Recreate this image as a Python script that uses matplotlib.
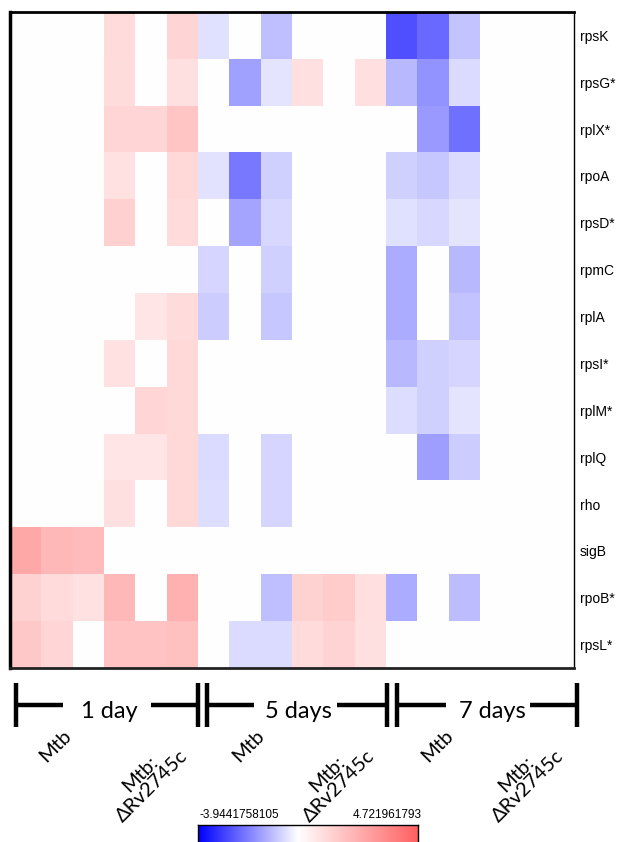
import matplotlib
matplotlib.use("Agg")
import matplotlib.pyplot as plt
from matplotlib.colors import LinearSegmentedColormap, Normalize
from matplotlib.lines import Line2D
import numpy as np

W, H = 617, 842

genes = ["rpsK", "rpsG*", "rplX*", "rpoA", "rpsD*", "rpmC", "rplA",
         "rpsI*", "rplM*", "rplQ", "rho", "sigB", "rpoB*", "rpsL*"]

# columns: 1 day Mtb x3, 1 day mutant x3, 5 days Mtb x3, 5 days mutant x3, 7 days Mtb x3, 7 days mutant x3
rpsK = [0, 0, 0, 1.04, 0, 1.25, -0.48, 0, -0.97, 0, 0, 0, -2.7, -2.3, -0.91, 0, 0, 0]
rpsG = [0, 0, 0, 1.0, 0, 0.9, 0, -1.47, -0.42, 0.92, 0, 0.95, -1.1, -1.65, -0.54, 0, 0, 0]
rplX = [0, 0, 0, 1.22, 1.22, 1.72, 0, 0, 0, 0, 0, 0, 0, -1.56, -2.2, 0, 0, 0]
rpoA = [0, 0, 0, 0.87, 0, 1.16, -0.45, -2.06, -0.7, 0, 0, 0, -0.71, -0.84, -0.55, 0, 0, 0]
rpsD = [0, 0, 0, 1.4, 0, 1.04, 0, -1.4, -0.6, 0, 0, 0, -0.48, -0.62, -0.42, 0, 0, 0]
rpmC = [0, 0, 0, 0, 0, 0, -0.66, 0, -0.71, 0, 0, 0, -1.28, 0, -1.07, 0, 0, 0]
rplA = [0, 0, 0, 0, 0.74, 1.04, -0.79, 0, -0.84, 0, 0, 0, -1.28, 0, -0.91, 0, 0, 0]
rpsI = [0, 0, 0, 0.87, 0, 1.16, 0, 0, 0, 0, 0, 0, -1.07, -0.7, -0.64, 0, 0, 0]
rplM = [0, 0, 0, 0, 1.22, 1.16, 0, 0, 0, 0, 0, 0, -0.51, -0.71, -0.42, 0, 0, 0]
rplQ = [0, 0, 0, 0.74, 0.74, 1.16, -0.54, 0, -0.66, 0, 0, 0, 0, -1.5, -0.79, 0, 0, 0]
rho = [0, 0, 0, 0.92, 0, 1.16, -0.51, 0, -0.66, 0, 0, 0, 0, 0, 0, 0, 0, 0]
sigB = [2.58, 2.11, 1.99, 0, 0, 0, 0, 0, 0, 0, 0, 0, 0, 0, 0, 0, 0, 0]
rpoB = [1.31, 1.04, 0.87, 2.11, 0, 2.35, 0, 0, -0.97, 1.31, 1.51, 0.95, -1.28, 0, -1.03, 0, 0, 0]
rpsL = [1.63, 1.22, 0, 1.75, 1.75, 1.87, 0, -0.54, -0.54, 1.04, 1.27, 0.92, 0, 0, 0, 0, 0, 0]

vmin, vmax = -3.9441758105, 4.721961793
days = ["1 day", "5 days", "7 days"]
strains = ["Mtb", "Mtb:\nΔRv2745c"]

data = np.array([rpsK, rpsG, rplX, rpoA, rpsD, rpmC, rplA, rpsI,
                 rplM, rplQ, rho, sigB, rpoB, rpsL])

mid = -vmin / (vmax - vmin)
cmap = LinearSegmentedColormap.from_list(
    "bwr_hm", [(0, "#0000ff"), (mid, "#ffffff"), (1, "#ff6060")])
norm = Normalize(vmin=vmin, vmax=vmax)

fig = plt.figure(figsize=(W / 100, H / 100), dpi=100)


def fx(x):
    return x / W


def fy(y):
    return 1 - y / H


ax = fig.add_axes([fx(10), fy(668), fx(574) - fx(10), fy(12) - fy(668)])
ax.imshow(data, cmap=cmap, norm=norm, aspect="auto", interpolation="nearest")
ax.set_xticks([])
ax.set_yticks(range(len(genes)))
ax.set_yticklabels(genes, family=["Liberation Sans", "DejaVu Sans"], fontsize=10)
ax.yaxis.tick_right()
ax.tick_params(axis="y", length=0, pad=4)
ax.spines["left"].set_linewidth(2.5)
ax.spines["top"].set_linewidth(2)
ax.spines["bottom"].set_linewidth(2)
ax.spines["bottom"].set_color("#222222")
ax.spines["right"].set_linewidth(1)

# bracket annotations under the heatmap
lw = 3.2
brackets = [(16, 198, 63, 151, 109), (207, 387, 254, 337, 298), (397, 577, 446, 530, 492)]
for i, (x0, x1, a, b, tc) in enumerate(brackets):
    for seg in [((x0, x0), (683, 727)), ((x1, x1), (683, 727)),
                ((x0, a), (705, 705)), ((b, x1), (705, 705))]:
        fig.add_artist(Line2D([fx(v) for v in seg[0]], [fy(v) for v in seg[1]],
                              color="black", lw=lw, solid_capstyle="butt"))
    fig.text(fx(tc), fy(711), days[i], ha="center", va="center",
             fontsize=17, family=["Lato", "DejaVu Sans"])

mtb_x = [55, 248, 437]
mut_x = [146, 333, 522]
for i in range(3):
    fig.text(fx(mtb_x[i]), fy(746), strains[0], rotation=45, ha="center", va="center",
             rotation_mode="anchor", fontsize=14.5, family=["Lato", "DejaVu Sans"])
    fig.text(fx(mut_x[i]), fy(780), strains[1], rotation=45, ha="center", va="center",
             rotation_mode="anchor", multialignment="center", fontsize=14.5,
             linespacing=1.0, family=["Lato", "DejaVu Sans"])

# colour scale
cax = fig.add_axes([fx(198), fy(845), fx(418) - fx(198), fy(825) - fy(845)])
grad = np.linspace(vmin, vmax, 256).reshape(1, -1)
cax.imshow(grad, cmap=cmap, norm=norm, aspect="auto")
cax.set_xticks([])
cax.set_yticks([])
for s in cax.spines.values():
    s.set_linewidth(1)
fig.text(fx(199), fy(818), "-3.9441758105", ha="left", va="baseline", fontsize=8.5,
         family=["Liberation Sans Narrow", "Liberation Sans"])
fig.text(fx(422), fy(818), "4.721961793", ha="right", va="baseline", fontsize=8.5,
         family=["Liberation Sans Narrow", "Liberation Sans"])

fig.savefig("out.png", dpi=100)
